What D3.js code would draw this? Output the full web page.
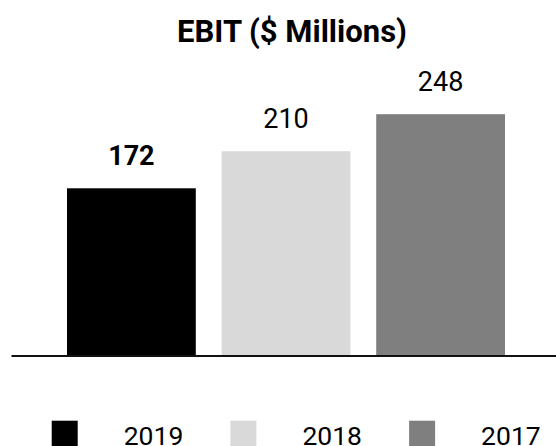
<!DOCTYPE html>
<html lang="en">
<head>
	<meta charset="utf-8">
	<title>EBIT</title>
	<script type="text/javascript" src="https://cdn.jsdelivr.net/npm/d3@7"></script>
</head>
<style>
	body {
		margin: 0;
		background: white;
		font-family: Roboto, sans-serif;
	}
</style>
<body>
<div id="chart"></div>
<script type="text/javascript" charset="utf-8">

//chart data
var years = ["2019","2018","2017"]
var ebit = [172, 210, 248]
var colors = ["#000000","#d9d9d9","#7f7f7f"]
var title = "EBIT ($ Millions)"

var W = 556, H = 446
var svg = d3.select("#chart").append("svg")
	.attr("width", W).attr("height", H)

//scales
var x = d3.scaleBand().domain(years).range([67, 505]).paddingInner(0.167).paddingOuter(0)
var y = d3.scaleLinear().domain([0, 172]).range([356, 188.3])

svg.append("text")
	.attr("x", 292).attr("y", 41.7)
	.attr("text-anchor","middle")
	.style("font-weight","bold").style("font-size","31px")
	.text(title)

svg.selectAll(".bar").data(ebit).enter().append("rect")
	.attr("class","bar")
	.attr("x", function(d,i) {return x(years[i])})
	.attr("width", x.bandwidth())
	.attr("y", function(d) {return y(d)})
	.attr("height", function(d) {return y(0)-y(d)})
	.style("fill", function(d,i) {return colors[i]})

svg.selectAll(".val").data(ebit).enter().append("text")
	.attr("class","val")
	.attr("x", function(d,i) {return x(years[i])+x.bandwidth()/2})
	.attr("y", function(d) {return y(d)-23})
	.attr("text-anchor","middle")
	.style("font-size","27px")
	.style("font-weight", function(d,i) {return i==0 ? "bold" : "normal"})
	.text(function(d) {return d})

//baseline
svg.append("line")
	.attr("x1", 11.5).attr("x2", W)
	.attr("y1", 356).attr("y2", 356)
	.style("stroke","#111").style("stroke-width", 2)

//legend
var lg = svg.selectAll(".leg").data(years).enter().append("g")
	.attr("class","leg")
	.attr("transform", function(d,i) {return "translate("+(51.7+i*178.7)+",420.7)"})
lg.append("rect").attr("width",26).attr("height",26)
	.style("fill", function(d,i) {return colors[i]})
lg.append("text").attr("x",72).attr("y",24.3)
	.style("font-size","26.5px")
	.text(function(d) {return d})

</script>
</body>
</html>
